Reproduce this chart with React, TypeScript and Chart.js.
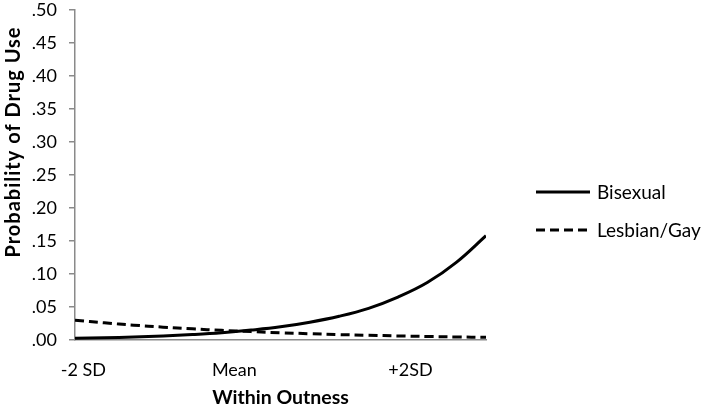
import React, { useEffect, useRef } from "react";
import { Chart, registerables } from "chart.js";

Chart.register(...registerables);

// Data (x = position along the outness axis, 0..49)
const xPositions = [0, 3.5, 7, 10.5, 14, 17.5, 21, 24.5, 28, 31.5, 35, 38.5, 42, 45.5, 49];
const bisexual = [0.0025, 0.0034, 0.0045, 0.0061, 0.0082, 0.011, 0.015, 0.02, 0.027, 0.036, 0.048, 0.065, 0.087, 0.118, 0.158];
const lesbianGay = [0.03, 0.026, 0.0225, 0.0195, 0.0169, 0.0146, 0.0127, 0.011, 0.0095, 0.0082, 0.0071, 0.0062, 0.0053, 0.0046, 0.004];
const xTickValues = [1, 19, 40];
const xTickLabels = ["-2 SD", "Mean", "+2SD"];
const seriesNames = ["Bisexual", "Lesbian/Gay"];
const yTitle = "Probability of Drug Use";
const xTitle = "Within Outness";

const FONT = "Lato";
const AXIS_GRAY = "#8a8a8a";

export default function App() {
  const ref = useRef<HTMLCanvasElement | null>(null);

  useEffect(() => {
    document.body.style.margin = "0";
    const canvas = ref.current;
    if (!canvas) return;

    const overlay = {
      id: "overlay",
      afterDraw(chart: any) {
        const ctx = chart.ctx;
        ctx.save();
        ctx.fillStyle = "#000";
        ctx.textAlign = "center";
        ctx.textBaseline = "middle";
        // Y title
        ctx.save();
        ctx.font = `bold 20px ${FONT}`;
        try {
          (ctx as any).letterSpacing = "1px";
        } catch (e) {}
        ctx.translate(14, 142);
        ctx.rotate(-Math.PI / 2);
        ctx.fillText(yTitle, 0, 0);
        ctx.restore();
        // X title
        ctx.font = `bold 19.5px ${FONT}`;
        const ca = chart.chartArea;
        ctx.fillText(xTitle, (ca.left + ca.right) / 2, 398);
        // Legend
        ctx.font = `19px ${FONT}`;
        ctx.textAlign = "left";
        chart.data.datasets.forEach((ds: any, i: number) => {
          const y = 192 + i * 38;
          ctx.beginPath();
          ctx.strokeStyle = ds.borderColor;
          ctx.lineWidth = ds.borderWidth;
          ctx.setLineDash(ds.borderDash || []);
          ctx.moveTo(536, y);
          ctx.lineTo(590, y);
          ctx.stroke();
          ctx.setLineDash([]);
          ctx.fillText(ds.label, 597, y + 1);
        });
        ctx.restore();
      },
    };

    const chart = new Chart(canvas, {
      type: "line",
      data: {
        datasets: [
          {
            label: seriesNames[0],
            data: xPositions.map((x, i) => ({ x, y: bisexual[i] })),
            borderColor: "#000",
            borderWidth: 3,
            pointRadius: 0,
            tension: 0.4,
            fill: false,
          },
          {
            label: seriesNames[1],
            data: xPositions.map((x, i) => ({ x, y: lesbianGay[i] })),
            borderColor: "#000",
            borderWidth: 3,
            borderDash: [9, 5],
            pointRadius: 0,
            tension: 0.4,
            fill: false,
          },
        ],
      },
      options: {
        responsive: false,
        animation: false,
        layout: { padding: { left: 0, right: 217, top: 10, bottom: 0 } },
        plugins: { legend: { display: false }, tooltip: { enabled: false } },
        scales: {
          x: {
            type: "linear",
            min: 0,
            max: 49,
            afterBuildTicks: (scale: any) => {
              scale.ticks = xTickValues.map((v) => ({ value: v }));
            },
            afterFit: (scale: any) => {
              scale.height = 68;
              scale.paddingLeft = 0;
              scale.paddingRight = 0;
            },
            grid: { display: false },
            border: { display: true, color: AXIS_GRAY, width: 1.5 },
            ticks: {
              autoSkip: false,
              maxRotation: 0,
              padding: 11,
              color: "#000",
              font: { family: FONT, size: 18 },
              callback: (v: any) => {
                const idx = xTickValues.indexOf(v);
                return idx >= 0 ? xTickLabels[idx] : "";
              },
            },
          },
          y: {
            type: "linear",
            min: 0,
            max: 0.5,
            afterFit: (scale: any) => {
              scale.width = 75;
              scale.paddingTop = 0;
              scale.paddingBottom = 0;
            },
            grid: {
              display: true,
              drawOnChartArea: false,
              drawTicks: true,
              tickLength: 6,
              color: AXIS_GRAY,
              lineWidth: 1.5,
            },
            border: { display: true, color: AXIS_GRAY, width: 1.5 },
            ticks: {
              stepSize: 0.05,
              padding: 12,
              color: "#000",
              font: { family: FONT, size: 18 },
              callback: (v: any) => Number(v).toFixed(2).replace(/^0/, ""),
            },
          },
        },
      },
      plugins: [overlay],
    } as any);

    return () => chart.destroy();
  }, []);

  return (
    <div style={{ width: 703, height: 408 }}>
      <canvas ref={ref} width={703} height={408} style={{ display: "block" }} />
    </div>
  );
}
